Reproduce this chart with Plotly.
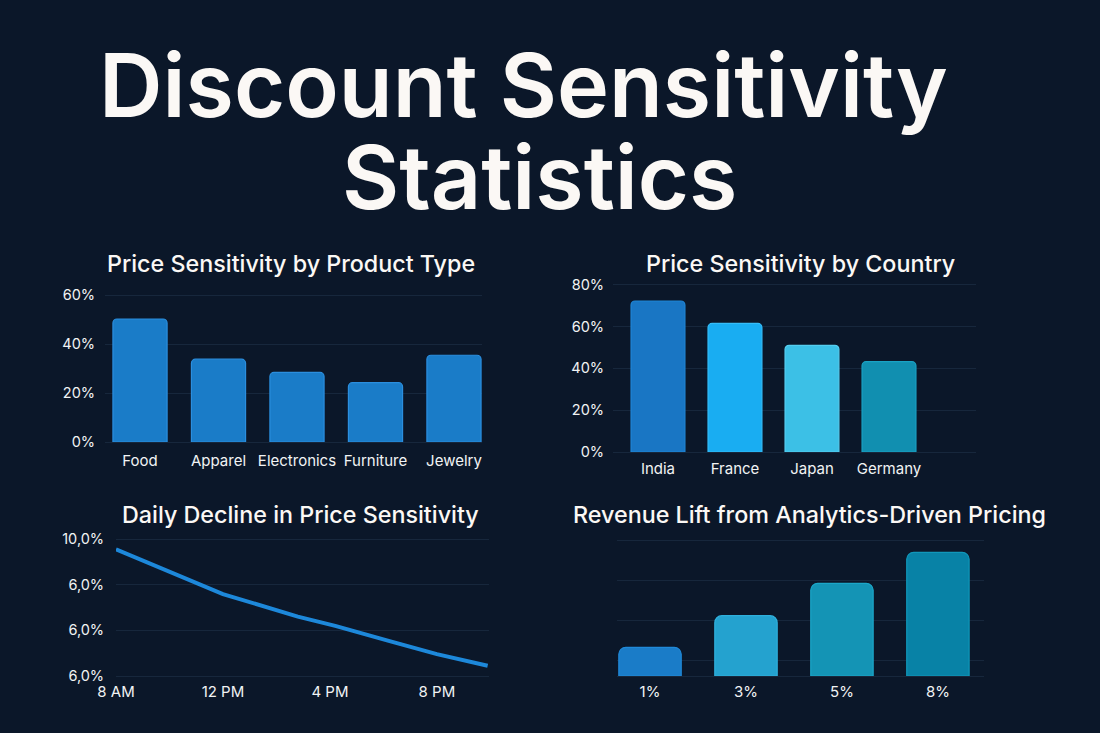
import plotly.graph_objects as go

W, H = 1100, 733
BG = "#0b1729"
GRID = "#17273c"
TXT = "#f1f3f4"
FONT = "Inter"

product_types = ["Food", "Apparel", "Electronics", "Furniture", "Jewelry"]
product_values = [50.2, 33.8, 28.4, 24.2, 35.4]
product_ticks = [0, 20, 40, 60]
product_ticklabels = ["0%", "20%", "40%", "60%"]

countries = ["India", "France", "Japan", "Germany"]
country_values = [72.2, 61.5, 51.0, 43.2]
country_colors = ["#1976c4", "#19adf2", "#3cc0e6", "#118fb0"]
country_edges = ["#1f86d6", "#35bdf8", "#55cdef", "#1aa2c4"]
country_ticks = [0, 20, 40, 60, 80]
country_ticklabels = ["0%", "20%", "40%", "60%", "80%"]

hours = [8, 10.3, 12, 14.8, 16.2, 18.2, 20, 21.9]
decline_values = [9.56, 8.43, 7.59, 6.60, 6.19, 5.53, 4.95, 4.44]
hour_ticks = [8, 12, 16, 20]
hour_ticklabels = ["8 AM", "12 PM", "4 PM", "8 PM"]
decline_ticks = [4, 6, 8, 10]
decline_ticklabels = ["6,0%", "6,0%", "6,0%", "10,0%"]

lift_labels = ["1%", "3%", "5%", "8%"]
lift_values = [1.9, 4.0, 6.15, 8.2]
lift_colors = ["#1a7cc8", "#24a2cf", "#1494b5", "#0882a6"]
lift_edges = ["#2089d8", "#2fb0dc", "#1ba6c8", "#1097ba"]
lift_grid = [1, 3.67, 6.33, 9]


def xd(a, b):
    return [a / W, b / W]


def yd(top, bottom):
    return [1 - bottom / H, 1 - top / H]


fig = go.Figure()

fig.add_trace(go.Bar(x=product_types, y=product_values, xaxis="x", yaxis="y", width=0.69,
                     marker=dict(color="#1a7cc8", line=dict(color="#2b8ede", width=1.2), cornerradius=4)))
fig.add_trace(go.Bar(x=countries, y=country_values, xaxis="x2", yaxis="y2", width=0.70,
                     marker=dict(color=country_colors, line=dict(color=country_edges, width=1.2), cornerradius=4)))
fig.add_trace(go.Scatter(x=hours, y=decline_values, xaxis="x3", yaxis="y3", mode="lines",
                         line=dict(color="#1d88da", width=4)))
fig.add_trace(go.Bar(x=lift_labels, y=lift_values, xaxis="x4", yaxis="y4", width=0.65,
                     marker=dict(color=lift_colors, line=dict(color=lift_edges, width=1.2), cornerradius=7)))

x_font = dict(family=FONT, size=15, color=TXT)
y_font = dict(family=FONT, size=14.5, color=TXT)


def x_axis(domain, rng, anchor, ticklen, **kw):
    return dict(domain=domain, range=rng, anchor=anchor, showgrid=False, zeroline=False, automargin=False,
                showline=True, linecolor=GRID, linewidth=1, ticks="outside", ticklen=ticklen,
                tickcolor="rgba(0,0,0,0)", tickfont=x_font, fixedrange=True, **kw)


def y_axis(domain, rng, anchor, ticklen, vals, text):
    return dict(domain=domain, range=rng, anchor=anchor, showgrid=True, gridcolor=GRID, gridwidth=1,
                zeroline=False, showline=False, ticks="outside", ticklen=ticklen, automargin=False,
                tickcolor="rgba(0,0,0,0)", tickfont=y_font, tickmode="array",
                tickvals=vals, ticktext=text, fixedrange=True)


titles = [
    ("Discount Sensitivity", 523.5, 85, 88, 600),
    ("Statistics", 539, 177, 88, 600),
    ("Price Sensitivity by Product Type", 290.5, 263, 23.3, 500),
    ("Price Sensitivity by Country", 800, 263, 23.3, 500),
    ("Daily Decline in Price Sensitivity", 300, 514, 23.3, 500),
    ("Revenue Lift from Analytics-Driven Pricing", 809.5, 514, 23.3, 500),
]
annotations = [
    dict(text=t, x=x / W, y=1 - y / H, xref="paper", yref="paper", showarrow=False,
         xanchor="center", yanchor="middle", font=dict(family=FONT, size=s, color="#fbf8f5", weight=wt))
    for t, x, y, s, wt in titles
]

fig.update_layout(
    width=W, height=H, margin=dict(l=0, r=0, t=0, b=0, pad=0),
    paper_bgcolor=BG, plot_bgcolor=BG, showlegend=False, annotations=annotations,
    xaxis=x_axis(xd(105, 482), [-0.446, 4.357], "y", 5, type="category"),
    yaxis=y_axis(yd(292.55, 442), [0, 61], "x", 6, product_ticks, product_ticklabels),
    xaxis2=x_axis(xd(613, 976), [-0.584, 4.13], "y2", 3, type="category"),
    yaxis2=y_axis(yd(282.6, 452), [0, 81], "x2", 5, country_ticks, country_ticklabels),
    xaxis3=x_axis(xd(116, 489), [8, 21.95], "y3", 2, tickmode="array", tickvals=hour_ticks,
                  ticktext=hour_ticklabels),
    yaxis3=y_axis(yd(537, 675.7), [4, 10.1], "x3", 8, decline_ticks, decline_ticklabels),
    xaxis4=x_axis(xd(617, 984), [-0.344, 3.48], "y4", 2, type="category"),
    yaxis4=dict(domain=yd(538.8, 676), range=[0, 9.1], anchor="x4", showgrid=True, gridcolor=GRID, automargin=False,
                zeroline=False, showticklabels=False, tickmode="array", tickvals=lift_grid,
                fixedrange=True),
)

fig.write_html("out.html", config={"displayModeBar": False},
               post_script="document.body.style.margin='0';")
